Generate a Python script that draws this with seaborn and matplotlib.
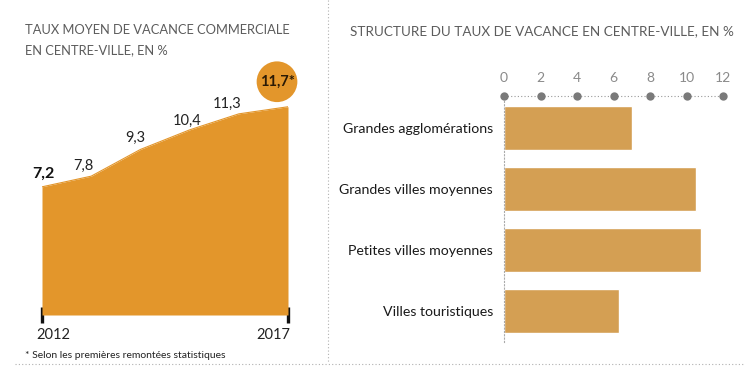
import matplotlib
matplotlib.use("Agg")
import matplotlib.pyplot as plt
import seaborn as sns
import pandas as pd
import numpy as np
from matplotlib.lines import Line2D

# ---------------- data ----------------
years = [2012, 2013, 2014, 2015, 2016, 2017]
rates = [7.2, 7.8, 9.3, 10.4, 11.3, 11.7]
rate_labels = ["7,2", "7,8", "9,3", "10,4", "11,3", "11,7*"]

categories = ["Grandes agglomérations", "Grandes villes moyennes",
              "Petites villes moyennes", "Villes touristiques"]
struct_values = [7.0, 10.5, 10.8, 6.3]
x_ticks = [0, 2, 4, 6, 8, 10, 12]

left_title = ["TAUX MOYEN DE VACANCE COMMERCIALE", "EN CENTRE-VILLE, EN %"]
right_title = "STRUCTURE DU TAUX DE VACANCE EN CENTRE-VILLE, EN %"
footnote = "* Selon les premières remontées statistiques"

# ---------------- style ----------------
sns.set_theme(style="white")
plt.rcParams['font.family'] = ['Lato', 'DejaVu Sans']

ORANGE = "#E3962B"
BAR = "#D49F53"
GREY_TXT = "#5c5c5c"
DOT = "#7a7a7a"

W, H = 756, 372
fig = plt.figure(figsize=(W / 100, H / 100), dpi=100)

def fx(px):
    return px / W

def fy(py):
    return 1 - py / H

# ---------------- left chart ----------------
axL = fig.add_axes([fx(42), fy(315), fx(288) - fx(42), (315 - 60) / H])
df = pd.DataFrame({"year": years, "rate": rates})
sns.lineplot(data=df, x="year", y="rate", ax=axL, color=ORANGE, lw=0.8)
axL.fill_between(df["year"], 0, df["rate"], color=ORANGE, lw=0)
axL.set_xlim(2012, 2017)
axL.set_ylim(0, 255 / 17.8)
axL.set_xlabel("")
axL.set_ylabel("")
axL.set_yticks([])
axL.set_xticks([2012, 2017])
axL.set_xticklabels(["", ""])
axL.tick_params(axis="x", direction="inout", length=12, width=2.4,
                color="#111111", bottom=True)
for s in axL.spines.values():
    s.set_visible(False)

# value labels (offsets in pixels, baseline-anchored)
offsets = [(1, 9), (-8, 6), (-5, 8), (-2, 5), (-12, 6)]
for i in range(5):
    axL.annotate(rate_labels[i], (years[i], rates[i]),
                 xytext=offsets[i], textcoords="offset pixels",
                 ha="center", va="baseline",
                 fontsize=11.5 if i == 0 else 10.5,
                 fontweight="bold" if i == 0 else "normal",
                 color="#111111" if i == 0 else "#222222",
                 annotation_clip=False)
axL.annotate(rate_labels[5], (years[5], rates[5]),
             xytext=(-11, 25), textcoords="offset pixels",
             ha="center", va="center", fontsize=10.5, fontweight="bold",
             color="#2a1a05", annotation_clip=False,
             bbox=dict(boxstyle="circle,pad=0.2", fc=ORANGE, ec="none"))

# year labels
fig.text(fx(36), fy(335), "2012", ha="left", va="center", fontsize=10.5, color="#222222")
fig.text(fx(290), fy(335), "2017", ha="right", va="center", fontsize=10.5, color="#222222")

# ---------------- right chart ----------------
axR = fig.add_axes([fx(504), fy(342), fx(723.3) - fx(504), (342 - 96) / H])
dfs = pd.DataFrame({"cat": categories, "val": struct_values})
sns.barplot(data=dfs, y="cat", x="val", ax=axR, color=BAR, width=0.72,
            saturation=1, orient="h")
axR.set_xlim(0, 12)
axR.set_ylim(3.508, -0.525)
axR.set_xlabel("")
axR.set_ylabel("")
axR.xaxis.tick_top()
axR.set_xticks(x_ticks)
axR.set_xticklabels([str(t) for t in x_ticks])
axR.tick_params(axis="x", length=0, pad=9, labelsize=10, labelcolor="#8a8a8a")
axR.tick_params(axis="y", length=0, pad=8, labelsize=10.2, labelcolor="#1a1a1a")
for k in ["right", "bottom", "top"]:
    axR.spines[k].set_visible(False)
axR.spines["left"].set_linestyle((0, (1, 2)))
axR.spines["left"].set_color("#aaaaaa")
axR.spines["left"].set_linewidth(0.8)
# dotted top line with dots at ticks
axR.plot([0, 12], [-0.525, -0.525], ls=(0, (1, 2)), color="#999999", lw=0.8,
         clip_on=False, zorder=3)
axR.scatter(x_ticks, [-0.525] * len(x_ticks), s=36, color=DOT, clip_on=False,
            zorder=4, linewidths=0)
axR.grid(False)

# ---------------- titles & notes ----------------
fig.text(fx(25), fy(30), left_title[0], ha="left", va="center", fontsize=9.3,
         color=GREY_TXT)
fig.text(fx(25), fy(50), left_title[1], ha="left", va="center", fontsize=9.3,
         color=GREY_TXT)
fig.text(fx(350), fy(31), right_title, ha="left", va="center", fontsize=9.7,
         color=GREY_TXT)
fig.text(fx(25), fy(355), footnote, ha="left", va="center", fontsize=7.5,
         color="#222222", family=['Liberation Sans Narrow', 'Lato', 'DejaVu Sans'])

# separators
fig.add_artist(Line2D([fx(328), fx(328)], [fy(0), fy(362)], ls=(0, (1, 2)),
                      color="#b0b0b0", lw=0.8))
fig.add_artist(Line2D([fx(15), fx(745)], [fy(364), fy(364)], ls=(0, (1, 2)),
                      color="#b0b0b0", lw=0.8))

fig.savefig("out.png", dpi=100)
